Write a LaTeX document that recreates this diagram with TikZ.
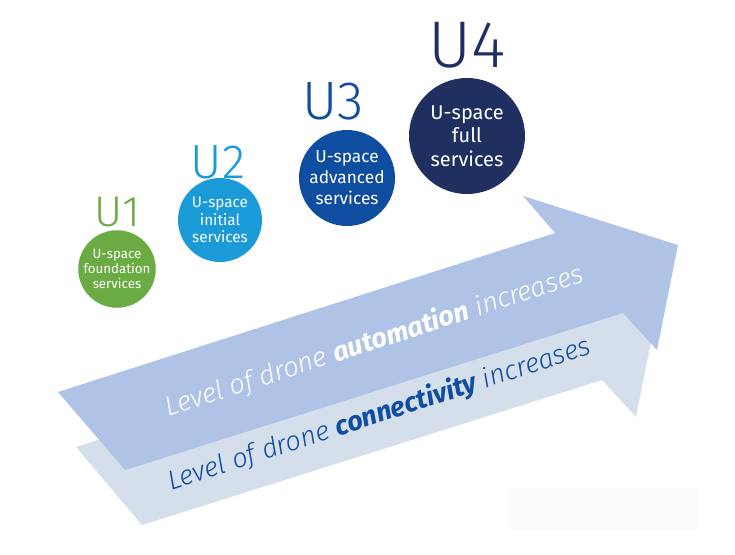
\documentclass[tikz,border=0pt]{standalone}
\usepackage{fontspec}
\setmainfont{Fira Sans}
\IfFontExistsTF{Fira Sans Light}{\newfontfamily\ulightfont{Fira Sans Light}}{\newfontfamily\ulightfont{Fira Sans}}
\newcommand{\strongword}[1]{{\normalfont\bfseries\itshape #1}}
\definecolor{arrA}{HTML}{AEC3E6}
\definecolor{arrB}{HTML}{D5DEEB}
\definecolor{cOne}{HTML}{6AAC43}
\definecolor{cTwo}{HTML}{1A9AD7}
\definecolor{cThree}{HTML}{0E4D9F}
\definecolor{cFour}{HTML}{1F2F5F}
\definecolor{patch}{HTML}{FCFCFC}
\tikzset{
  svc/.style={circle, fill=#1, text=white, inner sep=0pt, align=center},
  ulab/.style={text=#1, anchor=base, inner sep=0pt},
  arrtext/.style={anchor=base, inner sep=0pt, rotate=18, font=\ulightfont\fontsize{27}{30}\selectfont\itshape}
}
\begin{document}
\begin{tikzpicture}[x=1pt,y=-1pt]
\useasboundingbox (0,0) rectangle (735,554);
% faint patch
\fill[patch, rounded corners=2pt] (508,487) rectangle (699,530);
% lower arrow (connectivity)
\fill[arrB] (76,447) -- (534,300) -- (502,263) -- (657,312) -- (636,417) -- (602,380) -- (142,525) -- cycle;
% upper arrow (automation)
\fill[arrA] (58,392) -- (555,233) -- (523,196) -- (678,245) -- (657,350) -- (623,313) -- (125,470) -- cycle;
\node[arrtext, text=white] (tauto) at (377,349) {Level of drone \strongword{automation} increases};
\node[arrtext, text=cThree] (tconn) at (382,422) {Level of drone \strongword{connectivity} increases};
% circles
\node[svc=cOne, minimum size=74pt, font=\fontsize{13.3}{15}\selectfont] (c1) at (117,269) {U-space\\foundation\\services};
\node[svc=cTwo, minimum size=84pt, font=\fontsize{15.3}{17.5}\selectfont] (c2) at (220,220) {U-space\\initial\\services};
\node[svc=cThree, minimum size=96pt, font=\fontsize{17.3}{21}\selectfont] (c3) at (347,178) {U-space\\advanced\\services};
\node[svc=cFour, minimum size=116pt, font=\fontsize{20}{23.5}\selectfont] (c4) at (467,136) {U-space\\full\\services};
% labels
\node[ulab=cOne, font=\ulightfont\fontsize{43}{43}\selectfont] (u1) at (117,226) {U1};
\node[ulab=cTwo, font=\ulightfont\fontsize{48}{48}\selectfont] (u2) at (218,178) {U2};
\node[ulab=cThree, font=\ulightfont\fontsize{54}{54}\selectfont] (u3) at (333,119) {U3};
\node[ulab=cFour, font=\ulightfont\fontsize{66}{66}\selectfont] (u4) at (467,67) {U4};
\end{tikzpicture}
\end{document}
